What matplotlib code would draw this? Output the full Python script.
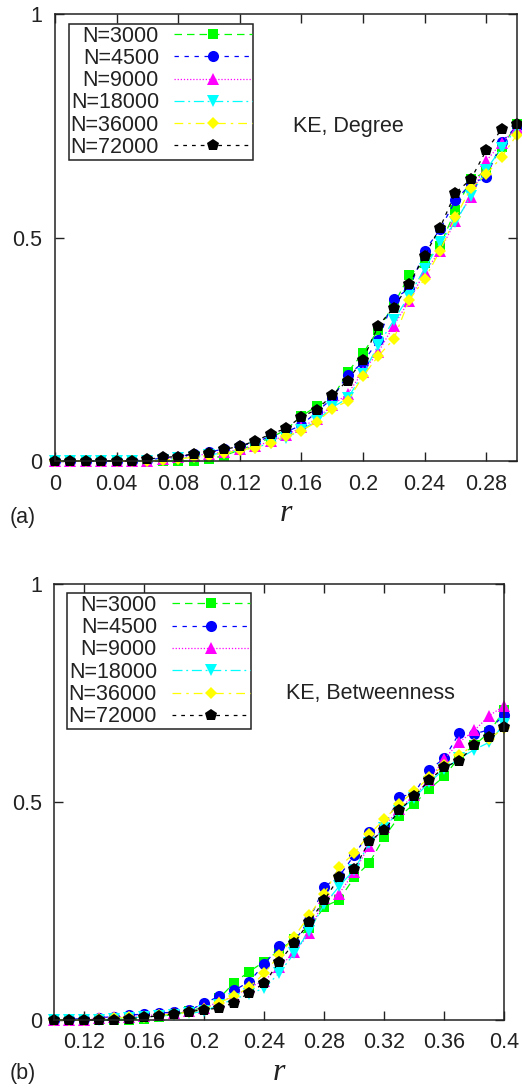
#!/usr/bin/env python3
# -*- coding: utf-8 -*-

import matplotlib
matplotlib.use('Agg')
import matplotlib.pyplot as plt
from matplotlib.lines import Line2D
from matplotlib.legend_handler import HandlerLine2D

plt.rcParams['font.family'] = ['Liberation Sans', 'DejaVu Sans']

labels = ['N=3000', 'N=4500', 'N=9000', 'N=18000', 'N=36000', 'N=72000']

# panel (a): KE, Degree
r_a = [0.00, 0.01, 0.02, 0.03, 0.04, 0.05, 0.06, 0.07, 0.08, 0.09, 0.10,
       0.11, 0.12, 0.13, 0.14, 0.15, 0.16, 0.17, 0.18, 0.19, 0.20,
       0.21, 0.22, 0.23, 0.24, 0.25, 0.26, 0.27, 0.28, 0.29, 0.30]
deg_3000 = [0, 0, 0, 0, 0, 0, 0, 0, 0, 0, 0.005,
            0.012, 0.025, 0.037, 0.052, 0.07, 0.10, 0.123, 0.14, 0.199, 0.241,
            0.294, 0.35, 0.415, 0.444, 0.481, 0.561, 0.63, 0.647, 0.702, 0.753]
deg_4500 = [0, 0, 0, 0, 0, 0, 0.003, 0.006, 0.01, 0.015, 0.02,
            0.027, 0.033, 0.042, 0.055, 0.065, 0.08, 0.11, 0.14, 0.192, 0.22,
            0.271, 0.363, 0.385, 0.47, 0.518, 0.583, 0.62, 0.635, 0.713, 0.75]
deg_9000 = [0, 0, 0, 0, 0, 0, 0, 0.004, 0.008, 0.012, 0.016,
            0.02, 0.026, 0.033, 0.044, 0.058, 0.075, 0.095, 0.125, 0.15, 0.20,
            0.244, 0.303, 0.359, 0.422, 0.47, 0.537, 0.59, 0.671, 0.712, 0.745]
deg_18000 = [0, 0, 0, 0, 0, 0, 0, 0.003, 0.006, 0.01, 0.014,
             0.018, 0.024, 0.03, 0.04, 0.052, 0.07, 0.09, 0.12, 0.14, 0.195,
             0.26, 0.315, 0.37, 0.43, 0.489, 0.534, 0.593, 0.652, 0.70, 0.745]
deg_36000 = [0, 0, 0, 0, 0, 0, 0, 0.002, 0.005, 0.008, 0.012,
             0.018, 0.024, 0.03, 0.04, 0.055, 0.068, 0.087, 0.117, 0.134, 0.19,
             0.235, 0.273, 0.36, 0.407, 0.47, 0.545, 0.61, 0.641, 0.68, 0.73]
deg_72000 = [0, 0, 0, 0, 0, 0, 0.004, 0.008, 0.01, 0.016, 0.019,
             0.026, 0.033, 0.045, 0.06, 0.073, 0.099, 0.115, 0.147, 0.18, 0.227,
             0.303, 0.343, 0.396, 0.459, 0.522, 0.60, 0.63, 0.695, 0.742, 0.753]

# panel (b): KE, Betweenness
r_b = [0.10, 0.11, 0.12, 0.13, 0.14, 0.15, 0.16, 0.17, 0.18, 0.19, 0.20,
       0.21, 0.22, 0.23, 0.24, 0.25, 0.26, 0.27, 0.28, 0.29, 0.30,
       0.31, 0.32, 0.33, 0.34, 0.35, 0.36, 0.37, 0.38, 0.39, 0.40]
btw_3000 = [0, 0, 0, 0, 0, 0, 0.003, 0.008, 0.013, 0.02, 0.03,
            0.05, 0.086, 0.111, 0.134, 0.16, 0.185, 0.21, 0.26, 0.276, 0.327,
            0.36, 0.42, 0.467, 0.496, 0.53, 0.559, 0.603, 0.63, 0.66, 0.711]
btw_4500 = [0, 0.002, 0.003, 0.005, 0.008, 0.012, 0.013, 0.016, 0.018, 0.023, 0.038,
            0.055, 0.068, 0.088, 0.128, 0.169, 0.18, 0.23, 0.305, 0.33, 0.378,
            0.431, 0.444, 0.511, 0.52, 0.574, 0.60, 0.658, 0.656, 0.666, 0.70]
btw_9000 = [0, 0, 0, 0.004, 0.006, 0.008, 0.01, 0.012, 0.015, 0.02, 0.028,
            0.042, 0.055, 0.075, 0.09, 0.122, 0.155, 0.199, 0.28, 0.29, 0.34,
            0.40, 0.443, 0.485, 0.515, 0.55, 0.599, 0.637, 0.664, 0.698, 0.721]
btw_18000 = [0, 0, 0, 0, 0.003, 0.005, 0.007, 0.009, 0.012, 0.015, 0.02,
             0.035, 0.048, 0.06, 0.073, 0.108, 0.153, 0.205, 0.265, 0.307, 0.345,
             0.405, 0.44, 0.48, 0.51, 0.545, 0.575, 0.60, 0.62, 0.637, 0.679]
btw_36000 = [0, 0, 0, 0.002, 0.004, 0.006, 0.008, 0.011, 0.014, 0.018, 0.025,
             0.04, 0.055, 0.075, 0.107, 0.149, 0.191, 0.24, 0.29, 0.351, 0.383,
             0.426, 0.46, 0.496, 0.525, 0.557, 0.585, 0.607, 0.632, 0.645, 0.67]
btw_72000 = [0, 0, 0, 0, 0, 0.003, 0.006, 0.01, 0.014, 0.019, 0.024,
             0.027, 0.04, 0.063, 0.084, 0.134, 0.177, 0.225, 0.275, 0.328, 0.347,
             0.41, 0.435, 0.481, 0.513, 0.55, 0.58, 0.595, 0.63, 0.65, 0.673]

styles = [
    dict(color='#00ff00', marker='s', markersize=7.5, linestyle=(0, (6, 4))),
    dict(color='#0000ff', marker='o', markersize=8, linestyle=(0, (3.5, 4.5))),
    dict(color='#ff00ff', marker='^', markersize=8, linestyle=(0, (1, 1.5))),
    dict(color='#00ffff', marker='v', markersize=8, linestyle=(0, (8, 3, 1.5, 3))),
    dict(color='#ffff00', marker='D', markersize=6.5, linestyle=(0, (7, 4, 2, 4))),
    dict(color='#000000', marker='p', markersize=9, linestyle=(0, (3, 4))),
]

axis_color = '#222222'


def draw_panel(ax, x, series, xlim, xticks, xticklabels, title, legend_anchor):
    for y, label, st in zip(series, labels, styles):
        ax.plot(x, y, label=label, linewidth=0.9, clip_on=False,
                markeredgewidth=0, **st)
    ax.set_xlim(*xlim)
    ax.set_ylim(0, 1)
    ax.set_xticks(xticks)
    ax.set_xticklabels(xticklabels)
    ax.set_yticks([0, 0.5, 1])
    ax.set_yticklabels(['0', '0.5', '1'])
    ax.tick_params(direction='in', length=6.5, width=1, colors=axis_color,
                   labelsize=15.5, top=True, right=True, pad=9)
    ax.tick_params(axis='x', pad=9)
    for sp in ax.spines.values():
        sp.set_color(axis_color)
        sp.set_linewidth(1.1)
    ax.set_xlabel('r', family='Liberation Serif', style='italic', fontsize=23,
                  labelpad=3, color=axis_color)
    ax.text(0.515, 0.748, title, transform=ax.transAxes, fontsize=15.5,
            color=axis_color, va='center', ha='left')
    leg = ax.legend(loc='upper left', bbox_to_anchor=legend_anchor,
                    borderaxespad=0, markerfirst=False, fontsize=15.5,
                    handlelength=4.1, handletextpad=0.2, labelspacing=0.06,
                    borderpad=0.08, fancybox=False, framealpha=1,
                    edgecolor=axis_color,
                    handler_map={Line2D: HandlerLine2D(numpoints=1, xpad=0.5)})
    leg.get_frame().set_linewidth(1.1)
    for t in leg.get_texts():
        t.set_color(axis_color)


fig = plt.figure(figsize=(5.22, 10.89), dpi=100)

ax1 = fig.add_axes([55 / 522, 628 / 1089, 462 / 522, 447 / 1089])
draw_panel(ax1, r_a, [deg_3000, deg_4500, deg_9000, deg_18000, deg_36000, deg_72000],
           (0, 0.3), [0, 0.04, 0.08, 0.12, 0.16, 0.2, 0.24, 0.28],
           ['0', '0.04', '0.08', '0.12', '0.16', '0.2', '0.24', '0.28'],
           'KE, Degree', (0.030, 0.978))

ax2 = fig.add_axes([54.3 / 522, 69 / 1089, 450 / 522, 436 / 1089])
draw_panel(ax2, r_b, [btw_3000, btw_4500, btw_9000, btw_18000, btw_36000, btw_72000],
           (0.1, 0.4), [0.12, 0.16, 0.2, 0.24, 0.28, 0.32, 0.36, 0.4],
           ['0.12', '0.16', '0.2', '0.24', '0.28', '0.32', '0.36', '0.4'],
           'KE, Betweenness', (0.028, 0.979))

fig.text(23 / 522, 1 - 517 / 1089, '(a)', fontsize=15.5, color=axis_color,
         ha='center', va='center')
fig.text(23 / 522, 1 - 1073 / 1089, '(b)', fontsize=15.5, color=axis_color,
         ha='center', va='center')

fig.savefig('out.png', dpi=100)
